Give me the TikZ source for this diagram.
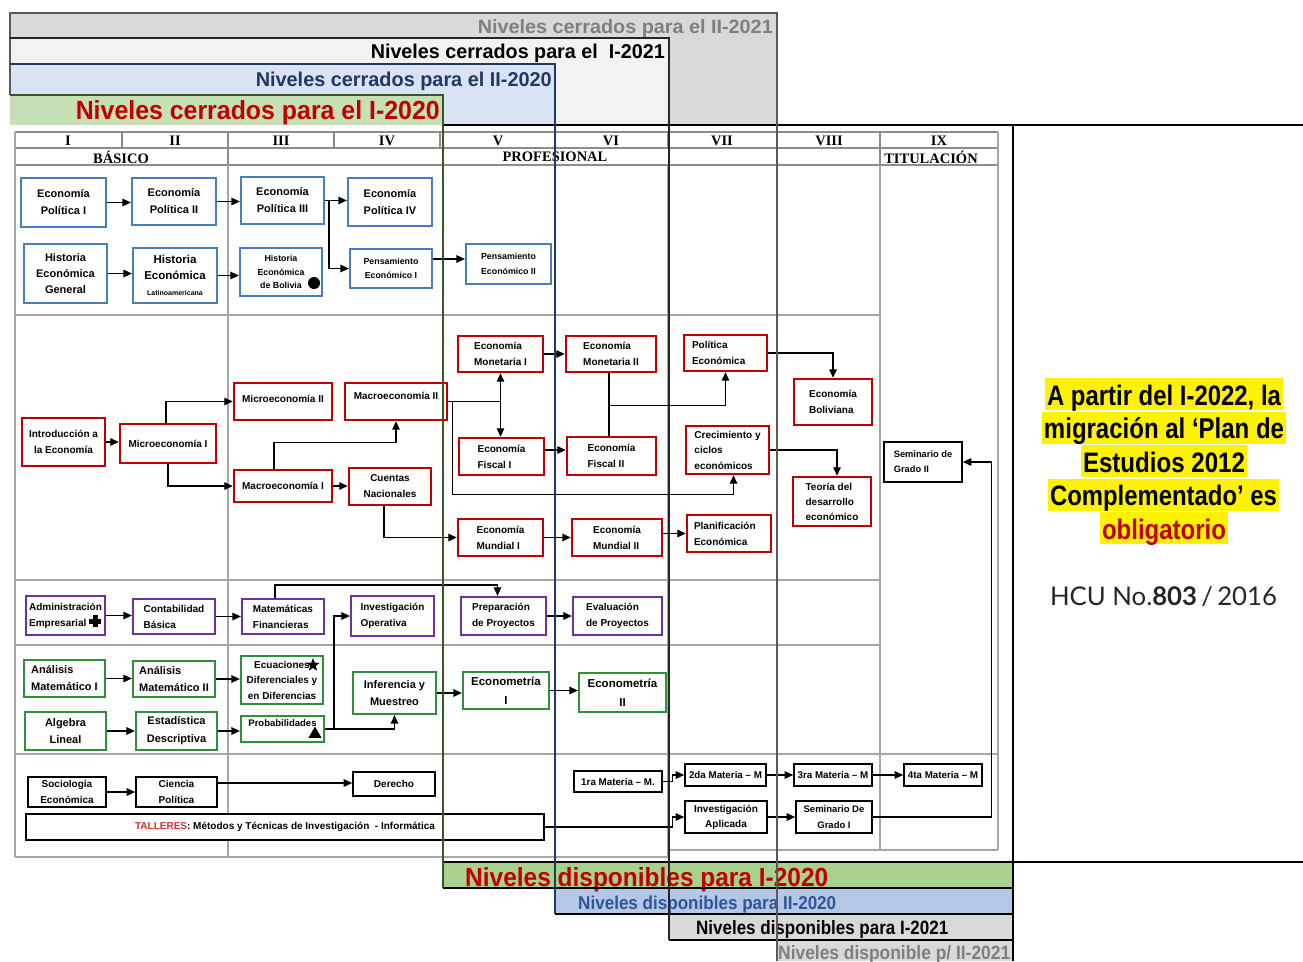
\documentclass[tikz,border=0pt]{standalone}
\usepackage{fontspec}
\setmainfont{Liberation Sans}
\newfontfamily\hdrfont{Liberation Serif}
\newfontfamily\latofont{Lato}
\usepackage{graphicx}
\usetikzlibrary{arrows.meta,shapes.geometric}
\definecolor{blueb}{HTML}{4A7EBB}
\definecolor{redb}{HTML}{C00000}
\definecolor{purb}{HTML}{7030A0}
\definecolor{grnb}{HTML}{2F8F3A}
\definecolor{tblgray}{HTML}{A6A6A6}
\definecolor{hdrgray}{HTML}{8C8C8C}
\definecolor{lgray}{HTML}{D9D9D9}
\definecolor{wgray}{HTML}{F2F2F2}
\definecolor{lblue}{HTML}{DAE3F3}
\definecolor{lgreen}{HTML}{C5E0B4}
\definecolor{bgreen}{HTML}{A9D18E}
\definecolor{bblue}{HTML}{B4C7E7}
\definecolor{dgray}{HTML}{595959}
\definecolor{navy}{HTML}{1F3864}
\definecolor{navyb}{HTML}{2F5597}
\definecolor{dgreen}{HTML}{385723}
\definecolor{ttgray}{HTML}{7F7F7F}
\definecolor{talred}{HTML}{D03030}
\begin{document}
\begin{tikzpicture}[x=1pt,y=-1pt,
  tline/.style={draw=tblgray, line width=1.3pt},
  hline/.style={draw=hdrgray, line width=1.6pt},
  bx/.style={draw, rectangle, inner sep=1pt, align=center, fill=white, text=black},
  bl/.style={bx, draw=blueb, line width=2.2pt},
  rd/.style={bx, draw=redb, line width=2.4pt},
  pu/.style={bx, draw=purb, line width=2.2pt},
  gr/.style={bx, draw=grnb, line width=2.2pt},
  bk/.style={bx, draw=black, line width=1.6pt},
  lft/.style={align=left},
  ft/.style 2 args={font=\bfseries\fontsize{#1}{#2}\selectfont},
  wh/.style 2 args={minimum width=#1, minimum height=#2},
  arr/.style={-{Triangle[length=8.5pt,width=7.5pt]}, line width=1.3pt},
  arrb/.style={{Triangle[length=8.5pt,width=7.5pt]}-{Triangle[length=8.5pt,width=7.5pt]}, line width=1.3pt},
  ln/.style={line width=1.3pt},
  hdr/.style={font=\hdrfont\bfseries\fontsize{14.5}{14.5}\selectfont, inner sep=0},
  ban/.style={inner sep=0},
  hl/.style={fill=yellow, inner xsep=2pt, inner ysep=1pt, text height=26pt, text depth=4pt, anchor=base}
]
\useasboundingbox (0,0) rectangle (1303,961);
\fill[white] (0,0) rectangle (1303,961);

% ---------- table grid ----------
\draw[hline] (15,132) -- (998,132);
\draw[hline] (15,148) -- (998,148);
\draw[hline] (15,165) -- (998,165);
\foreach \x in {122,228,334,440,555,668,777,880} \draw[hline] (\x,132) -- (\x,148);
\draw[hline] (228,148) -- (228,165);
\draw[hline] (880,148) -- (880,165);
\draw[tline] (15,132) -- (15,857);
\draw[tline] (228,165) -- (228,857);
\draw[tline] (668,165) -- (668,857);
\draw[tline] (880,165) -- (880,850);
\draw[tline] (998,132) -- (998,850);
\foreach \y in {315,580,645} \draw[tline] (15,\y) -- (880,\y);
\draw[tline] (15,754) -- (998,754);
\draw[tline] (15,857) -- (668,857);
\draw[tline] (668,850) -- (998,850);

% header texts
\node[hdr] (h1) at (68,140.5) {I};
\node[hdr] (h2) at (175,140.5) {II};
\node[hdr] (h3) at (281,140.5) {III};
\node[hdr] (h4) at (387,140.5) {IV};
\node[hdr] (h5) at (498,140.5) {V};
\node[hdr] (h6) at (611,140.5) {VI};
\node[hdr] (h7) at (722,140.5) {VII};
\node[hdr] (h8) at (829,140.5) {VIII};
\node[hdr] (h9) at (939,140.5) {IX};
\node[hdr] (hb) at (121,157) {BÁSICO};
\node[hdr] (hp) at (555,157) {PROFESIONAL};
\node[hdr] (ht) at (931,157) {TITULACIÓN};

% ---------- row A (blue) ----------
\node[bl,ft={11}{17},wh={85}{49}] (ep1) at (63.5,202.5) {Economía\\Política I};
\node[bl,ft={11}{17},wh={84}{47}] (ep2) at (174,201.5) {Economía\\Política II};
\node[bl,ft={11}{17},wh={83}{47}] (ep3) at (282.5,200.5) {Economía\\Política III};
\node[bl,ft={11}{17},wh={84}{48}] (ep4) at (390,202) {Economía\\Política IV};
\node[bl,ft={11}{16},wh={83}{59}] (heg) at (65.5,273.5) {Historia\\Económica\\General};
\node[bl,ft={11.5}{16},wh={84}{55}] (hel) at (175,275.5) {Historia\\Económica\\{\fontsize{7}{10}\selectfont Latinoamericana}};
\node[bl,ft={8.8}{13.5},wh={82}{48}] (heb) at (281,272) {Historia\\Económica\\de Bolivia};
\node[circle,fill=black,inner sep=0,minimum size=12] (dot) at (314,283) {};
\node[bl,ft={8.8}{14.5},wh={82}{39}] (pe1) at (391,268.5) {Pensamiento\\Económico I};
\node[bl,ft={8.8}{14.5},wh={85}{40}] (pe2) at (508.5,264) {Pensamiento\\Económico II};

\draw[arr] (ep1.east) -- (ep1.east -| ep2.west);
\draw[arr] (ep2.east) -- (ep2.east -| ep3.west);
\draw[arr] (ep3.east) -- (ep3.east -| ep4.west);
\draw[arr] ([xshift=4pt]ep3.east) |- (pe1.west);
\draw[arr] (heg.east) -- (heg.east -| hel.west);
\draw[arr] (hel.east) -- (hel.east -| heb.west);
\draw[arr] ([yshift=9.5pt]pe1.east) -- ([yshift=9.5pt]pe1.east -| pe2.west);

% ---------- row B (red) ----------
\node[rd,ft={10}{16},wh={83}{48}] (ie) at (63.5,442) {Introducción a\\la Economía};
\node[rd,ft={10}{16},wh={96}{39}] (mi1) at (168,443.5) {Microeconomía I};
\node[rd,ft={10}{16},wh={98}{37},text depth=6pt] (mi2) at (283,401.5) {Microeconomía II};
\node[rd,ft={10}{16},wh={102}{37},text depth=12pt] (ma2) at (396,401.5) {Macroeconomía II};
\node[rd,ft={10}{16},wh={98}{32}] (ma1) at (283,486) {Macroeconomía I};
\node[rd,ft={10}{16},wh={82}{37}] (cn) at (390,486.5) {Cuentas\\Nacionales};
\node[rd,lft,ft={10}{16},wh={85}{36}] (emo1) at (500.5,354) {Economía\\Monetaria I};
\node[rd,lft,ft={10}{16},wh={90}{36}] (emo2) at (611,354) {Economía\\Monetaria II};
\node[rd,lft,ft={10}{16},wh={83}{36},text width=67] (pec) at (725.5,353) {Política\\Económica};
\node[rd,lft,ft={10}{16},wh={78}{46}] (ebo) at (833,402) {Economía\\Boliviana};
\node[rd,lft,ft={10}{16},wh={85}{37}] (ef1) at (501.5,456.5) {Economía\\Fiscal I};
\node[rd,lft,ft={10}{16},wh={89}{38}] (ef2) at (611.5,456) {Economía\\Fiscal II};
\node[rd,lft,ft={10}{15.5},wh={83}{48}] (crec) at (727.5,450) {Crecimiento y\\ciclos\\económicos};
\node[rd,lft,ft={10}{15},wh={78}{49}] (tde) at (832,501.5) {Teoría del\\desarrollo\\económico};
\node[rd,lft,ft={10}{16},wh={85}{37}] (emu1) at (500.5,537.5) {Economía\\Mundial I};
\node[rd,lft,ft={10}{16},wh={90}{37}] (emu2) at (617,537.5) {Economía\\Mundial II};
\node[rd,lft,ft={10}{16},wh={84}{37},text width=70] (ple) at (729,533.5) {Planificación\\Económica};
\node[bk,lft,ft={9.3}{15},wh={78}{40}] (sem2) at (923,462) {Seminario de\\Grado II};

\draw[arr] (ie.east) -- (ie.east -| mi1.west);
\draw[arr] ([xshift=-2pt]mi1.north) |- (mi2.west);
\draw[arr] (mi1.south) |- (ma1.west);
\draw[arr] ([xshift=-9pt]ma1.north) -- ++(0,-26) -| (ma2.south);
\draw[arr] (ma1.east) -- (ma1.east -| cn.west);
\draw[arr] ([xshift=-6pt]cn.south) |- (emu1.west);
\draw[ln] (ma2.east) -- (ma2.east -| emo1.south);
\draw[arrb] (emo1.south) -- (emo1.south |- ef1.north);
\draw[arr] ([xshift=4pt]ma2.east) -- ++(0,93) -| ([xshift=6pt]crec.south);
\draw[arr] (emo1.east) -- (emo1.east -| emo2.west);
\draw[arr] ([yshift=6.5pt]ef1.east) -- ([yshift=6.5pt]ef1.east -| ef2.west);
\draw[ln] ([xshift=-2pt]emo2.south) -- ([xshift=-2pt]emo2.south |- ef2.north);
\draw[arr] ([xshift=-2pt,yshift=-32pt]emo2.south) -| (pec.south);
\draw[arr] (pec.east) -| (ebo.north);
\draw[arr] (crec.east) -| ([xshift=5pt]tde.north);
\draw[arr] (emu1.east) -- (emu1.east -| emu2.west);
\draw[arr] ([yshift=4pt]emu2.east) -- ([yshift=4pt]emu2.east -| ple.west);

% ---------- row C (purple) ----------
\node[pu,lft,ft={10}{16},wh={79}{39}] (ae) at (65.5,615.5) {Administración\\Empresarial\phantom{xx}};
\fill (92.5,615) rectangle (97.5,627);
\fill (89,618.5) rectangle (101,623.5);
\node[pu,lft,ft={10}{16},wh={82}{35}] (cb) at (174,616.5) {Contabilidad\\Básica};
\node[pu,lft,ft={10}{16},wh={82}{35}] (mf) at (283,616.5) {Matemáticas\\Financieras};
\node[pu,lft,ft={10}{16},wh={83}{40}] (io) at (392.5,616) {Investigación\\Operativa};
\node[pu,lft,ft={10}{16},wh={85}{38}] (pp) at (503.5,616) {Preparación\\de Proyectos};
\node[pu,lft,ft={10}{16},wh={89}{38}] (evp) at (617.5,616) {Evaluación\\de Proyectos};

\draw[arr] (ae.east) -- (ae.east -| cb.west);
\draw[arr] (cb.east) -- (cb.east -| mf.west);
\draw[arr] ([xshift=-8pt]mf.north) -- ++(0,-13) -| ([xshift=-6pt]pp.north);
\draw[arr] (pp.east) -- (pp.east -| evp.west);

% ---------- row D (green) ----------
\node[gr,lft,ft={11}{17},wh={81}{37}] (am1) at (64.5,678.5) {Análisis\\Matemático I};
\node[gr,lft,ft={11}{17},wh={82}{36}] (am2) at (174,679) {Análisis\\Matemático II};
\node[gr,ft={10}{15.5},wh={82}{48}] (ed) at (282,680) {Ecuaciones\\Diferenciales y\\en Diferencias};
\node[star,star points=5,star point ratio=2.4,fill=black,inner sep=0,minimum size=14] (str) at (313,665) {};
\node[gr,ft={11}{17},wh={83}{42}] (iym) at (394.5,693) {Inferencia y\\Muestreo};
\node[gr,ft={11}{17},wh={81}{38}] (al) at (65.5,731) {Algebra\\Lineal};
\node[gr,ft={11}{18},wh={81}{38}] (esd) at (176.5,731) {Estadística\\Descriptiva};
\node[gr,ft={9.5}{12},wh={83}{26},text depth=12pt] (prob) at (282.5,729) {Probabilidades};
\node[regular polygon,regular polygon sides=3,fill=black,inner sep=0,minimum size=15] (tri) at (315,734) {};
\node[gr,ft={11.5}{19},wh={86}{37}] (eci) at (506,690.5) {Econometría\\I};
\node[gr,ft={11.5}{19},wh={87}{39}] (ecii) at (622.5,692.5) {Econometría\\II};

\draw[arr] (am1.east) -- (am1.east -| am2.west);
\draw[arr] (am2.east) -- (am2.east -| ed.west);
\draw[arr] (al.east) -- (al.east -| esd.west);
\draw[arr] (esd.east) -- (esd.east -| prob.west);
\draw[arr] (prob.east) -- ++(9,0) |- (io.west);
\draw[arr] (prob.east) -| (iym.south);
\draw[arr] (iym.east) -- (iym.east -| eci.west);
\draw[arr] (eci.east) -- (eci.east -| ecii.west);

% ---------- row E (black) ----------
\node[bk,ft={10}{16},wh={78}{30}] (se) at (67,792) {Sociología\\Económica};
\node[bk,ft={10}{16},wh={81}{30}] (cp) at (176.5,792) {Ciencia\\Política};
\node[bk,ft={10}{16},wh={82}{24}] (der) at (394,784) {Derecho};
\node[bk,ft={10}{12},wh={518}{26}] (tal) at (285,827) {\textcolor{talred}{TALLERES}: Métodos y Técnicas de Investigación~ - Informática};
\node[bk,ft={9.8}{12},wh={88}{21}] (m1) at (618,781.5) {1ra Materia – M.};
\node[bk,ft={9.8}{12},wh={81}{22}] (m2) at (725.5,775) {2da Materia – M};
\node[bk,ft={9.8}{12},wh={78}{22}] (m3) at (833,775) {3ra Materia – M};
\node[bk,ft={9.8}{12},wh={78}{22}] (m4) at (943,775) {4ta Materia – M};
\node[bk,ft={10}{15},wh={82}{32}] (ia) at (726,817) {Investigación\\Aplicada};
\node[bk,ft={9.5}{15.5},wh={76}{32}] (sg1) at (834,817) {Seminario De\\Grado I};

\draw[arr] (se.east) -- (se.east -| cp.west);
\draw[arr] ([yshift=9pt]cp.east) -- ([yshift=9pt]cp.east -| der.west);
\draw[arr] (m1.east) -- ++(10,0) |- (m2.west);
\draw[arr] (m2.east) -- (m2.east -| m3.west);
\draw[arr] (m3.east) -- (m3.east -| m4.west);
\draw[arr] (tal.east) -| ([xshift=-12pt]ia.west) -- (ia.west);
\draw[arr] (ia.east) -- (ia.east -| sg1.west);
\draw[arr] (sg1.east) -- ++(119,0) |- (sem2.east);

% ---------- top banners ----------
\fill[lgray] (10,13) rectangle (777,125);
\fill[wgray] (10,38) rectangle (669,125);
\fill[lblue] (10,64) rectangle (555,125);
\fill[lgreen] (10,95) rectangle (443,125);
\node[ban,anchor=base east,text=ttgray] (tb1) at (773,33) {\resizebox{295pt}{14pt}{\bfseries Niveles cerrados para el II-2021}};
\node[ban,anchor=base east,text=black] (tb2) at (665,58.5) {\resizebox{294pt}{14.5pt}{\bfseries Niveles cerrados para el~ I-2021}};
\node[ban,anchor=base east,text=navy] (tb3) at (552,86) {\resizebox{296pt}{14.5pt}{\bfseries Niveles cerrados para el II-2020}};
\node[ban,anchor=base east,text=redb] (tb4) at (440,119) {\resizebox{364pt}{19pt}{\bfseries Niveles cerrados para el I-2020}};

% ---------- bottom banners ----------
\fill[bgreen] (443,862) rectangle (1013,888);
\fill[bblue] (555,888) rectangle (1013,914);
\fill[lgray] (669,914) rectangle (1013,940);
\fill[lgray] (777,940) rectangle (1013,961);
\node[ban,anchor=base west,text=redb] (bb1) at (465,886) {\resizebox{363pt}{19pt}{\bfseries Niveles disponibles para I-2020}};
\node[ban,anchor=base west,text=navyb] (bb2) at (578,909) {\resizebox{258pt}{13.5pt}{\bfseries Niveles disponibles para II-2020}};
\node[ban,anchor=base west,text=black] (bb3) at (696,934.5) {\resizebox{252pt}{14pt}{\bfseries Niveles disponibles para I-2021}};
\node[ban,anchor=base west,text=ttgray] (bb4) at (778,959.5) {\resizebox{232pt}{14pt}{\bfseries Niveles disponible p/ II-2021}};

% ---------- overlay frame lines ----------
\draw[line width=1.6pt] (443,862) -- (1303,862);
\draw[line width=1.6pt] (443,888) -- (1013,888);
\draw[line width=1.6pt] (555,914) -- (1013,914);
\draw[line width=1.6pt] (669,940) -- (1013,940);
\draw[line width=1.6pt] (443,125) -- (1303,125);
\draw[line width=2.2pt, draw=dgray] (10,95) -- (10,13) -- (777,13) -- (777,961);
\draw[line width=2.2pt, draw=black!85] (10,38) -- (669,38) -- (669,940);
\draw[line width=2.2pt, draw=navy] (10,64) -- (555,64) -- (555,914);
\draw[line width=2.2pt, draw=dgreen] (10,95) -- (443,95) -- (443,888);
\draw[line width=2pt] (1013,125) -- (1013,961);

% ---------- right panel ----------
\node[hl] (r1) at (1164,405) {\resizebox{234pt}{20.4pt}{\bfseries A partir del I-2022, la}};
\node[hl] (r2) at (1164,438.5) {\resizebox{240pt}{21pt}{\bfseries migración al ‘Plan de}};
\node[hl] (r3) at (1164,472) {\resizebox{162pt}{20.4pt}{\bfseries Estudios 2012}};
\node[hl] (r4) at (1163.5,505.5) {\resizebox{227pt}{20.4pt}{\bfseries Complementado’ es}};
\node[hl,text=redb] (r5) at (1164,539) {\resizebox{124pt}{20.4pt}{\bfseries obligatorio}};
\node[ban,anchor=base,text=black!85] (hcu) at (1163.5,605) {\resizebox{227pt}{!}{\latofont HCU No.\textbf{803}\,/\,2016}};
\end{tikzpicture}
\end{document}
